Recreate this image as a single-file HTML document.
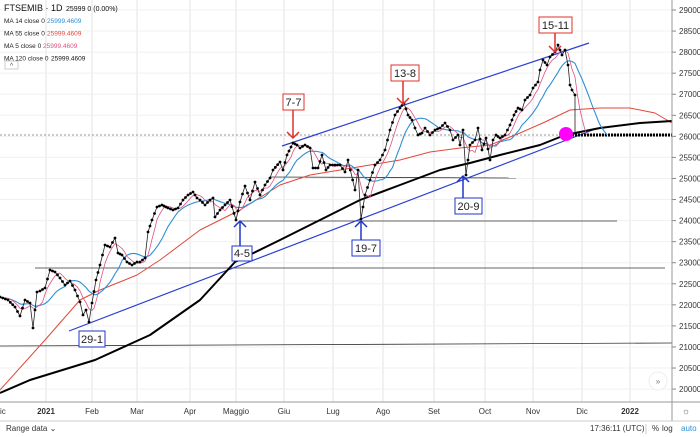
<!DOCTYPE html>
<html><head><meta charset="utf-8"><style>
html,body{margin:0;padding:0;background:#fff;width:700px;height:437px;overflow:hidden;font-family:"Liberation Sans",sans-serif;}
svg text{font-family:"Liberation Sans",sans-serif;}
</style></head><body>
<svg id="s" width="700" height="437" xmlns="http://www.w3.org/2000/svg">
<rect width="700" height="437" fill="#fff"/>
<g id="grid" stroke="#e3e3e3" stroke-width="1"></g>
<g id="lines"></g>
<g id="series"></g>
<g id="ann"></g>
<g id="axis"></g>
</svg>
<script>
const NS="http://www.w3.org/2000/svg";
function el(p,t,a,txt){const e=document.createElementNS(NS,t);for(const k in a)e.setAttribute(k,a[k]);if(txt!==undefined)e.textContent=txt;document.getElementById(p).appendChild(e);return e;}
const Y=v=>10+(29000-v)/500*21.06;
const vx=[46,92,137,190,236,284,333,383,434,485,533,582,630];
vx.forEach(x=>el('grid','line',{x1:x,y1:0,x2:x,y2:402}));
for(let v=20000;v<=29000;v+=500){const y=Y(v);el('grid','line',{x1:0,y1:y,x2:672,y2:y,stroke:'#f0f0f0'});
 el('axis','line',{x1:672,y1:y,x2:676,y2:y,stroke:'#888'});
 el('axis','text',{x:679,y:y+3,'font-size':'8',fill:'#333'},v);}
const H=[[0,135,672,135,'#999',1,'2,2'],[35,268,665,268,'#333',0.8],[0,346,672,343,'#333',0.8],[240,221,617,221,'#333',0.8],[270,177,516,178,'#333',0.8]];
H.forEach(h=>el('lines','line',{x1:h[0],y1:h[1],x2:h[2],y2:h[3],stroke:h[4],'stroke-width':h[5],'stroke-dasharray':h[6]||''}));
el('lines','line',{x1:282,y1:146,x2:589,y2:43,stroke:'#2a3fd0','stroke-width':1.2});
el('lines','line',{x1:69,y1:331,x2:598,y2:128,stroke:'#2a3fd0','stroke-width':1.2});
function poly(pts,c,w){el('series','polyline',{points:pts.map(p=>p.join(',')).join(' '),fill:'none',stroke:c,'stroke-width':w,'stroke-linejoin':'round'});}
poly([[0,390],[45,340],[80,300],[100,290],[137,275],[160,260],[200,230],[240,210],[280,185],[310,175],[340,170],[370,165],[400,160],[430,152],[460,148],[490,145],[520,133],[545,122],[570,110],[600,108],[630,108],[655,113],[672,123]],'#e0483a',1);
poly([[0,393],[30,380],[95,360],[150,335],[200,300],[235,262],[280,240],[320,220],[360,200],[400,185],[440,170],[470,163],[500,155],[540,145],[565,135],[600,128],[640,123],[672,121]],'#000',2);
el('series','line',{x1:566,y1:135,x2:672,y2:135,stroke:'#000','stroke-width':3,'stroke-dasharray':'2,1'});
const P=[[0,297],[8,300],[15,307],[20,316],[25,300],[30,303],[33,328],[37,292],[40,291],[45,288],[50,270],[55,272],[60,278],[65,285],[70,281],[75,290],[80,302],[83,315],[86,310],[89,322],[92,303],[96,280],[100,265],[105,245],[110,247],[115,238],[118,253],[122,255],[127,262],[132,265],[137,262],[140,262],[145,258],[148,232],[152,220],[157,207],[162,205],[168,208],[173,210],[178,208],[183,200],[188,195],[193,192],[197,198],[200,200],[205,205],[210,200],[213,198],[215,217],[220,210],[225,205],[230,200],[236,220],[240,202],[245,186],[250,200],[255,182],[260,195],[265,185],[270,178],[273,170],[280,162],[283,170],[287,155],[293,143],[297,145],[300,148],[305,145],[310,148],[313,168],[318,168],[322,155],[326,170],[330,165],[340,165],[345,172],[348,160],[355,190],[358,170],[361,219],[365,195],[370,180],[375,165],[380,160],[385,150],[390,130],[395,115],[400,108],[404,103],[408,115],[412,120],[415,128],[418,135],[422,133],[425,128],[430,135],[435,130],[440,128],[445,123],[450,130],[453,140],[458,135],[460,145],[463,130],[466,175],[470,145],[475,140],[478,128],[482,150],[486,138],[490,160],[493,140],[496,135],[500,138],[505,135],[510,125],[514,115],[518,108],[522,110],[525,100],[530,95],[533,88],[538,82],[540,70],[543,60],[547,65],[550,57],[555,52],[558,45],[562,55],[565,50],[568,65],[570,85],[572,90],[575,95]];
const D=[];for(let i=0;i<P.length-1;i++){const [x0,y0]=P[i],[x1,y1]=P[i+1];const n=Math.max(1,Math.round((x1-x0)/2.3));for(let k=0;k<n;k++)D.push([x0+(x1-x0)*k/n,y0+(y1-y0)*k/n]);}
D.push(P[P.length-1]);
const E=D.slice();for(let k=1;k<=14;k++)E.push([575+k*2.3,135]);
function ma(n){const o=[];for(let i=0;i<E.length;i++){const s=E.slice(Math.max(0,i-n+1),i+1);o.push([E[i][0],s.reduce((a,b)=>a+b[1],0)/s.length]);}return o;}
const m14=ma(14),m5=ma(5);
poly(m14,'#2d8fd5',1.1);
poly(m5.slice(0,D.length+5),'#e05080',0.8);
poly(D.concat([[575,135]]),'#222',0.8);
D.forEach(p=>el('series','circle',{cx:p[0],cy:p[1],r:1.4,fill:'#000'}));
el('series','circle',{cx:566,cy:134,r:7,fill:'#ff00ff'});
function box(x,y,w,h,t,c){el('ann','rect',{x:x,y:y,width:w,height:h,fill:'#fff',stroke:c,'stroke-width':1});el('ann','text',{x:x+w/2,y:y+h-4,'font-size':'11','text-anchor':'middle',fill:'#222'},t);}
function arrow(x,y1,y2,c){el('ann','line',{x1:x,y1:y1,x2:x,y2:y2,stroke:c,'stroke-width':1.5});const d=y2>y1?-6:6;el('ann','polyline',{points:`${x-6},${y2+d} ${x},${y2} ${x+6},${y2+d}`,fill:'none',stroke:c,'stroke-width':1.5});}
const R='#e0302a',B='#2035c8';
box(283,94,21,16,'7-7',R);arrow(293,110,138,R);
box(391,65,28,16,'13-8',R);arrow(403,81,104,R);
box(539,17,33,16,'15-11',R);arrow(555,33,52,R);
box(232,246,20,15,'4-5',B);arrow(240,246,221,B);
box(79,331,26,16,'29-1',B);
box(352,240,28,16,'19-7',B);arrow(361,240,221,B);
box(455,198,27,16,'20-9',B);arrow(463,198,176,B);
el('axis','line',{x1:672,y1:0,x2:672,y2:421,stroke:'#999'});
el('axis','line',{x1:0,y1:402,x2:700,y2:402,stroke:'#999'});
el('axis','line',{x1:0,y1:421,x2:700,y2:421,stroke:'#ccc'});
const ML=[[0,'ic'],[46,'2021',1],[92,'Feb'],[137,'Mar'],[190,'Apr'],[236,'Maggio'],[284,'Giu'],[333,'Lug'],[383,'Ago'],[434,'Set'],[485,'Oct'],[533,'Nov'],[582,'Dic'],[630,'2022',1]];
ML.forEach(m=>el('axis','text',{x:m[0],y:414,'font-size':'8','text-anchor':m[0]===0?'start':'middle',fill:'#333','font-weight':m[2]?'bold':'normal'},m[1]));
el('axis','text',{x:686,y:414,'font-size':'9','text-anchor':'middle',fill:'#555'},'☼');
el('axis','text',{x:6,y:431,'font-size':'8',fill:'#333'},'Range data ⌄');
el('axis','text',{x:590,y:431,'font-size':'8',fill:'#333'},'17:36:11 (UTC)');
el('axis','line',{x1:646,y1:424,x2:646,y2:434,stroke:'#ccc'});
el('axis','text',{x:652,y:431,'font-size':'8',fill:'#333'},'%');
el('axis','text',{x:662,y:431,'font-size':'8',fill:'#333'},'log');
el('axis','text',{x:681,y:431,'font-size':'8',fill:'#2d8fd5'},'auto');
el('axis','circle',{cx:658,cy:381,r:9,fill:'#fff',stroke:'#eee'});
el('axis','text',{x:658,y:384,'font-size':'8','text-anchor':'middle',fill:'#777'},'»');
el('axis','text',{x:4,y:11,'font-size':'9',fill:'#111'},'FTSEMIB · 1D');
el('axis','text',{x:66,y:11,'font-size':'7',fill:'#111'},'25999 0 (0.00%)');
const LG=[['MA 14 close 0','#2d8fd5',47],['MA 55 close 0','#e0483a',47],['MA 5 close 0','#e05080',43],['MA 120 close 0','#111',51]];
LG.forEach((l,i)=>{const y=23+i*12.5;el('axis','text',{x:4,y:y,'font-size':'6.5',fill:'#222'},l[0]);el('axis','text',{x:l[2],y:y,'font-size':'6.5',fill:l[1]},'25999.4609');});
el('axis','rect',{x:5,y:61,width:13,height:8,fill:'#fff',stroke:'#ccc'});
el('axis','text',{x:11.5,y:68,'font-size':'7','text-anchor':'middle',fill:'#555'},'^');
</script>
</body></html>
